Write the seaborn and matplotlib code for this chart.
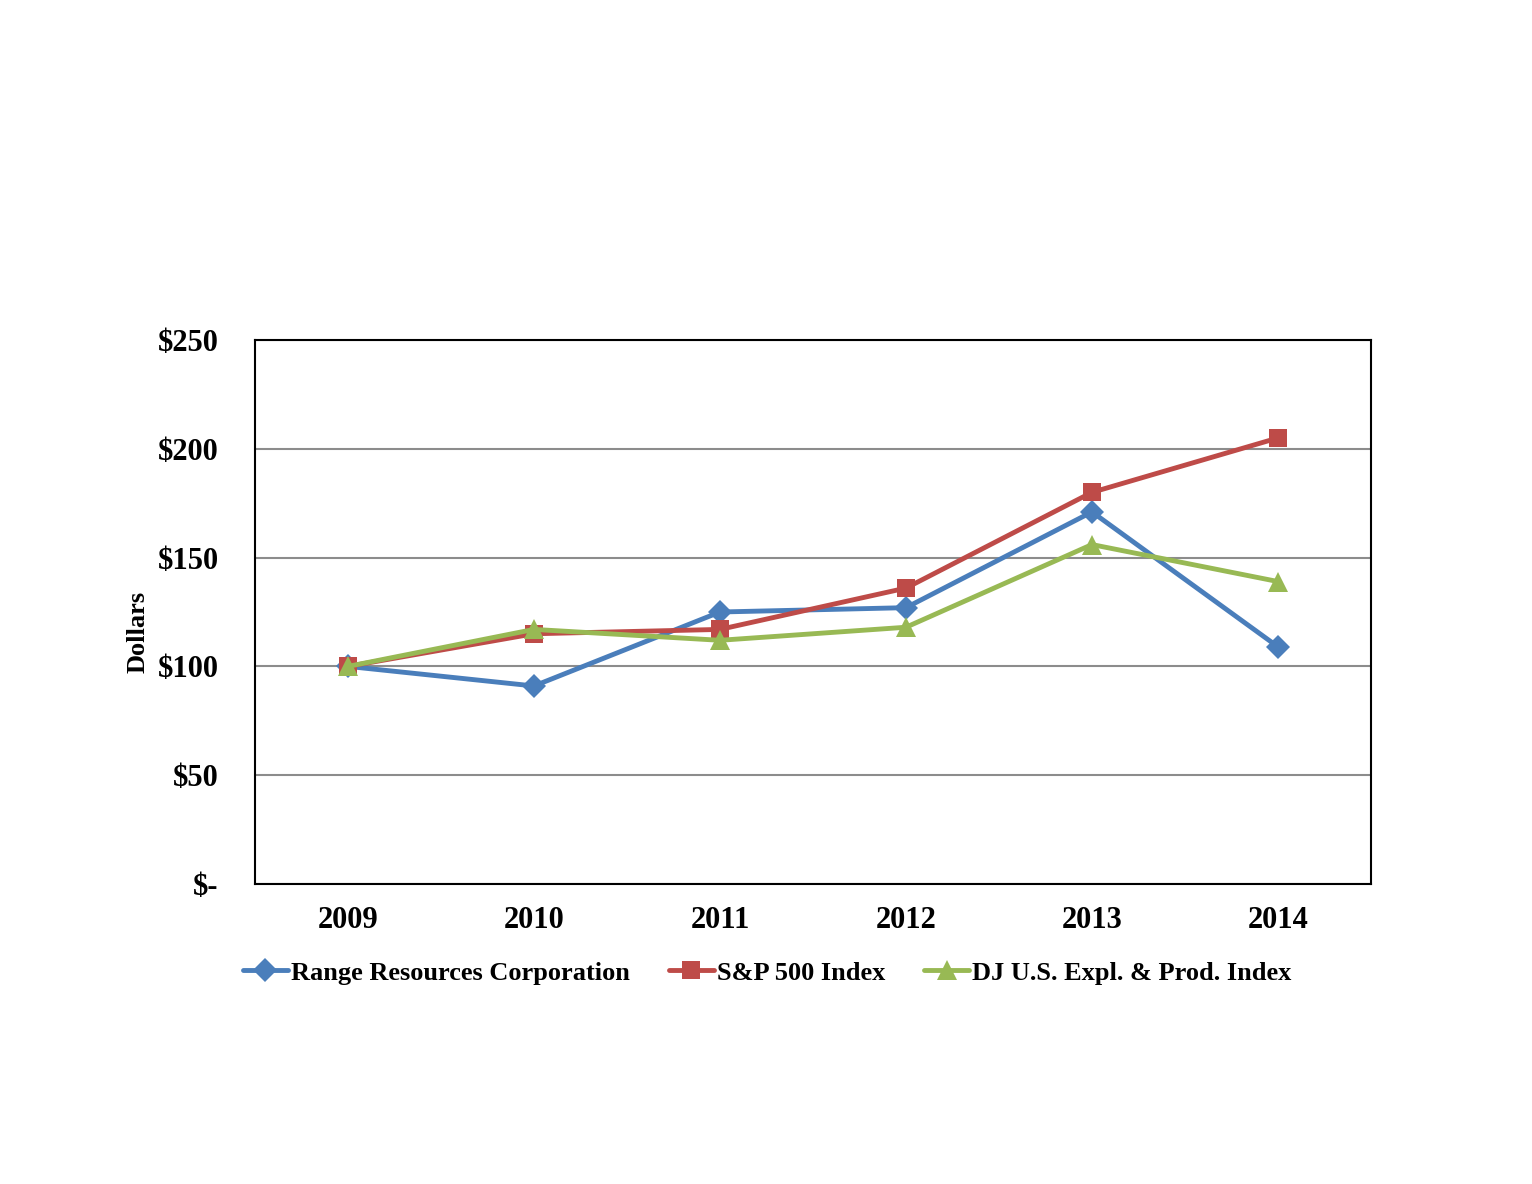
import pandas as pd
import matplotlib
matplotlib.use('Agg')
import matplotlib.pyplot as plt
import seaborn as sns

# 数据
years = ['2009', '2010', '2011', '2012', '2013', '2014']
range_res = [100, 91, 125, 127, 171, 109]
sp500 = [100, 115, 117, 136, 180, 205]
dj_ep = [100, 117, 112, 118, 156, 139]
series_names = ['Range Resources Corporation', 'S&P 500 Index', 'DJ U.S. Expl. & Prod. Index']
y_ticks = [0, 50, 100, 150, 200, 250]
y_tick_labels = ['$-', '$50', '$100', '$150', '$200', '$250']

sns.set_theme(style='white')
plt.rcParams['font.family'] = ['Liberation Serif', 'DejaVu Serif']
plt.rcParams['font.weight'] = 'bold'
plt.rcParams['text.color'] = 'black'
plt.rcParams['xtick.color'] = 'black'
plt.rcParams['ytick.color'] = 'black'
plt.rcParams['axes.labelcolor'] = 'black'

df = pd.DataFrame({
    'year': years * 3,
    'value': range_res + sp500 + dj_ep,
    'series': [series_names[0]] * 6 + [series_names[1]] * 6 + [series_names[2]] * 6,
})

palette = {series_names[0]: '#4A7EBB', series_names[1]: '#BE4B48', series_names[2]: '#98B954'}
markers = {series_names[0]: 'D', series_names[1]: 's', series_names[2]: '^'}
marker_sizes = {'D': 12, 's': 13, '^': 14}

fig = plt.figure(figsize=(15.32, 11.84), dpi=100)
ax = fig.add_axes([0.1664, 0.2534, 0.7285, 0.4594])

sns.lineplot(data=df, x='year', y='value', hue='series', style='series',
             palette=palette, markers=markers, dashes=False, linewidth=3.5,
             markersize=12, markeredgewidth=0, ax=ax, sort=False)

# 按标记类型调整大小
for line in ax.lines:
    m = line.get_marker()
    if m in marker_sizes:
        line.set_markersize(marker_sizes[m])

ax.set_xlim(-0.5, 5.5)
ax.set_ylim(0, 250)
ax.set_yticks(y_ticks)
ax.set_yticklabels(y_tick_labels, fontsize=22, fontweight='bold')
for lbl in ax.get_xticklabels():
    lbl.set_fontsize(22)
    lbl.set_fontweight('bold')
ax.tick_params(axis='x', pad=16, length=0)
ax.tick_params(axis='y', pad=26, length=0)
ax.yaxis.grid(True, color='#8c8c8c', linewidth=1.5)
ax.set_axisbelow(True)
for s in ax.spines.values():
    s.set_color('black')
    s.set_linewidth(1.5)

ax.set_xlabel('')
ax.set_ylabel('Dollars', fontsize=19, fontweight='bold')
ax.yaxis.set_label_coords(-0.094, 0.463)

leg = ax.legend(loc='upper center', bbox_to_anchor=(0.459, -0.098), ncol=3, frameon=False,
                prop={'size': 19, 'weight': 'bold'}, handlelength=1.7, handletextpad=0.1,
                columnspacing=1.5)
for h in leg.legend_handles:
    m = h.get_marker()
    if m in marker_sizes:
        h.set_markersize(marker_sizes[m])

fig.savefig('out.png', dpi=100)
